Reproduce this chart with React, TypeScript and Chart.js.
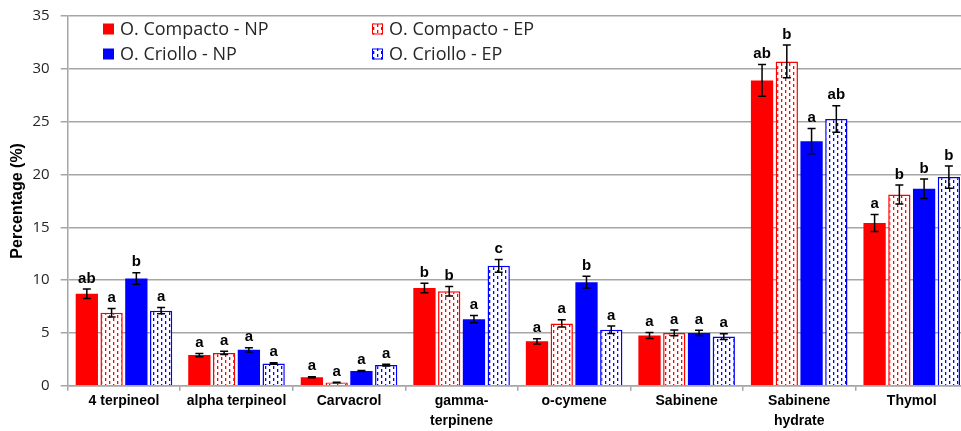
import React, { useEffect, useRef } from "react";
import { Chart, registerables } from "chart.js";

Chart.register(...registerables);

const categories: (string | string[])[] = [
  "4 terpineol",
  "alpha terpineol",
  "Carvacrol",
  ["gamma-", "terpinene"],
  "o-cymene",
  "Sabinene",
  ["Sabinene", "hydrate"],
  "Thymol",
];

const seriesNames = ["O. Compacto - NP", "O. Compacto - EP", "O. Criollo - NP", "O. Criollo - EP"];

const compactoNP = [8.7, 2.9, 0.8, 9.25, 4.2, 4.75, 28.9, 15.4];
const compactoNPErr = [0.45, 0.15, 0.05, 0.45, 0.25, 0.28, 1.5, 0.8];
const compactoNPLetters = ["ab", "a", "a", "b", "a", "a", "ab", "a"];

const compactoEP = [6.9, 3.1, 0.3, 8.95, 5.9, 5.0, 30.7, 18.1];
const compactoEPErr = [0.4, 0.15, 0.03, 0.45, 0.35, 0.28, 1.55, 0.9];
const compactoEPLetters = ["a", "a", "a", "b", "a", "a", "b", "b"];

const criolloNP = [10.15, 3.4, 1.4, 6.3, 9.8, 5.0, 23.15, 18.65];
const criolloNPErr = [0.55, 0.2, 0.05, 0.35, 0.55, 0.25, 1.2, 0.93];
const criolloNPLetters = ["b", "a", "a", "a", "b", "a", "a", "b"];

const criolloEP = [7.1, 2.1, 1.95, 11.35, 5.3, 4.65, 25.25, 19.75];
const criolloEPErr = [0.3, 0.08, 0.08, 0.6, 0.35, 0.28, 1.25, 1.05];
const criolloEPLetters = ["a", "a", "a", "c", "a", "a", "ab", "b"];

const yTicks = [0, 5, 10, 15, 20, 25, 30, 35];

const RED = "#FF0000";
const BLUE = "#0000FF";
const GRID = "#a6a6a6";

function makePattern(color: string): CanvasPattern | string {
  const c = document.createElement("canvas");
  c.width = 8;
  c.height = 6;
  const ctx = c.getContext("2d");
  if (!ctx) return "#fff";
  ctx.fillStyle = "#ffffff";
  ctx.fillRect(0, 0, 8, 6);
  ctx.fillStyle = color;
  ctx.fillRect(1, 0, 1.3, 3);
  ctx.fillRect(5, 3, 1.3, 3);
  const p = ctx.createPattern(c, "repeat");
  return p || "#fff";
}

const errorBarPlugin = {
  id: "errorBars",
  afterDatasetsDraw(chart: any) {
    const ctx = chart.ctx;
    const yScale = chart.scales.y;
    chart.data.datasets.forEach((ds: any, i: number) => {
      const meta = chart.getDatasetMeta(i);
      meta.data.forEach((bar: any, j: number) => {
        const v = ds.data[j];
        const e = ds.errors[j];
        const x = bar.x;
        const yt = yScale.getPixelForValue(v + e);
        const yb = yScale.getPixelForValue(v - e);
        ctx.save();
        ctx.strokeStyle = "#000";
        ctx.lineWidth = 1.5;
        ctx.beginPath();
        ctx.moveTo(x, yt);
        ctx.lineTo(x, yb);
        ctx.moveTo(x - 4, yt);
        ctx.lineTo(x + 4, yt);
        ctx.moveTo(x - 4, yb);
        ctx.lineTo(x + 4, yb);
        ctx.stroke();
        ctx.fillStyle = "#000";
        ctx.font = "bold 15px 'Liberation Sans', Arial, sans-serif";
        ctx.textAlign = "center";
        ctx.textBaseline = "bottom";
        ctx.fillText(ds.letters[j], x, yt - 3);
        ctx.restore();
      });
    });
  },
};

const legendPlugin = {
  id: "insideLegend",
  afterDraw(chart: any) {
    const ctx = chart.ctx;
    const cols = [103, 372];
    const rows = [29, 54];
    chart.data.datasets.forEach((ds: any, i: number) => {
      const col = i % 2;
      const row = Math.floor(i / 2);
      const bx = cols[col];
      const by = rows[row] - 5.5;
      ctx.save();
      ctx.fillStyle = ds.backgroundColor;
      ctx.fillRect(bx, by, 11, 11);
      if (ds.patterned) {
        ctx.strokeStyle = ds.borderColor;
        ctx.lineWidth = 1;
        ctx.strokeRect(bx + 0.5, by + 0.5, 10, 10);
      }
      ctx.fillStyle = "#262626";
      ctx.font = "18px 'Open Sans', sans-serif";
      ctx.textAlign = "left";
      ctx.textBaseline = "middle";
      ctx.fillText(ds.label, bx + 17, rows[row] + 1);
      ctx.restore();
    });
  },
};

export default function App() {
  const ref = useRef<HTMLCanvasElement | null>(null);
  useEffect(() => {
    if (!ref.current) return;
    const redPat = makePattern(RED);
    const bluePat = makePattern(BLUE);
    const chart = new Chart(ref.current, {
      type: "bar",
      data: {
        labels: categories as any,
        datasets: [
          {
            label: seriesNames[0],
            data: compactoNP,
            backgroundColor: RED,
            borderColor: RED,
            borderWidth: 0,
            errors: compactoNPErr,
            letters: compactoNPLetters,
          } as any,
          {
            label: seriesNames[1],
            data: compactoEP,
            backgroundColor: redPat,
            borderColor: RED,
            borderWidth: 1.5,
            errors: compactoEPErr,
            letters: compactoEPLetters,
            patterned: true,
          } as any,
          {
            label: seriesNames[2],
            data: criolloNP,
            backgroundColor: BLUE,
            borderColor: BLUE,
            borderWidth: 0,
            errors: criolloNPErr,
            letters: criolloNPLetters,
          } as any,
          {
            label: seriesNames[3],
            data: criolloEP,
            backgroundColor: bluePat,
            borderColor: BLUE,
            borderWidth: 1.5,
            errors: criolloEPErr,
            letters: criolloEPLetters,
            patterned: true,
          } as any,
        ],
      },
      options: {
        animation: false,
        responsive: false,
        layout: { padding: { left: 0, top: 16, right: 7, bottom: 0 } },
        datasets: {
          bar: { categoryPercentage: 0.88, barPercentage: 0.9 },
        },
        plugins: {
          legend: { display: false },
          tooltip: { enabled: false },
        },
        scales: {
          x: {
            offset: true,
            grid: {
              offset: true,
              drawOnChartArea: false,
              color: GRID,
              lineWidth: 1.5,
              tickLength: 5,
            },
            border: { color: GRID, width: 1.5 },
            ticks: {
              color: "#000",
              font: {
                family: "'Liberation Sans', Arial, sans-serif",
                size: 14,
                weight: "bold",
                lineHeight: 1.4,
              },
              padding: 1,
              maxRotation: 0,
              autoSkip: false,
            },
            afterFit: (s: any) => {
              s.height = 45.3;
              s.paddingLeft = 0;
              s.paddingRight = 0;
            },
          },
          y: {
            min: 0,
            max: 35,
            afterBuildTicks: (s: any) => {
              s.ticks = yTicks.map((v) => ({ value: v }));
            },
            grid: { color: GRID, lineWidth: 1.5, tickLength: 7 },
            border: { color: GRID, width: 1.5 },
            ticks: {
              color: "#262626",
              font: { family: "'Open Sans', sans-serif", size: 15 },
              padding: 11,
            },
            title: {
              display: true,
              text: "Percentage (%)",
              color: "#000",
              font: { family: "'Liberation Sans', Arial, sans-serif", size: 16, weight: "bold" },
              padding: { top: 8, bottom: 0 },
            },
            afterFit: (s: any) => {
              s.width = 67.7;
              s.paddingTop = 5;
              s.paddingBottom = 5;
            },
          },
        },
      },
      plugins: [errorBarPlugin, legendPlugin],
    } as any);
    return () => chart.destroy();
  }, []);
  return (
    <div
      style={{
        position: "fixed",
        left: 0,
        top: 0,
        width: 961,
        height: 431,
        overflow: "hidden",
        background: "#fff",
      }}
    >
      <canvas ref={ref} width={975} height={431} style={{ width: 975, height: 431, display: "block" }} />
    </div>
  );
}
